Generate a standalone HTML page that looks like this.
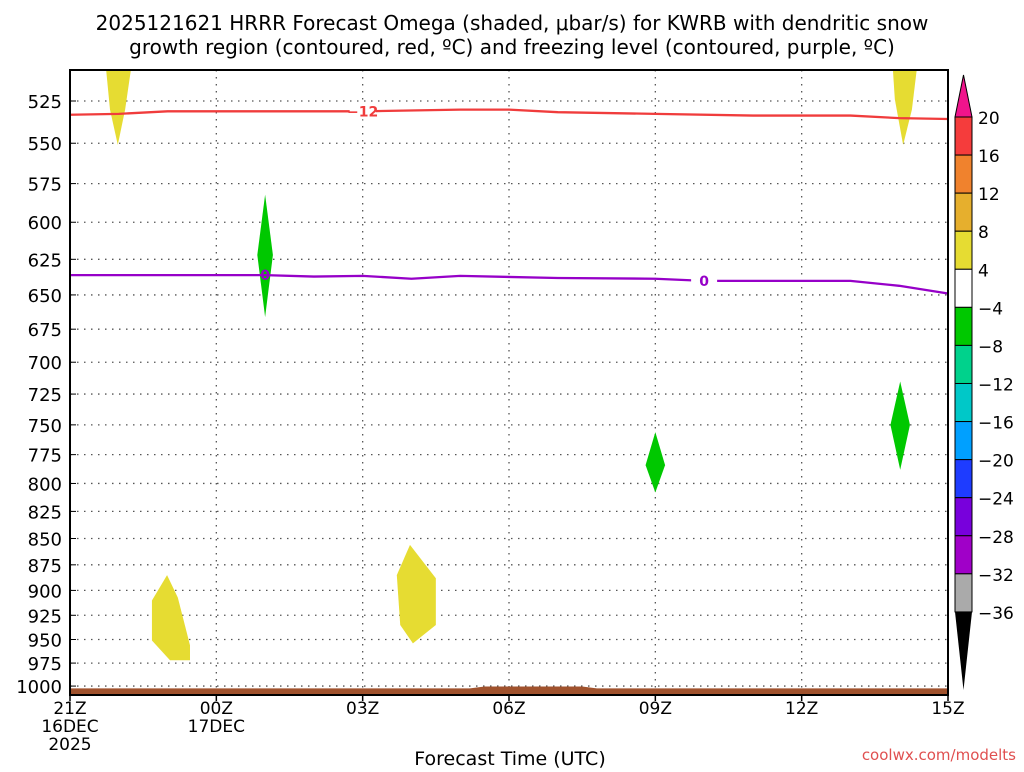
<!DOCTYPE html>
<html><head><meta charset="utf-8"><style>
body{margin:0;background:#fff;width:1024px;height:768px;overflow:hidden;font-family:"DejaVu Sans","Liberation Sans",sans-serif}
svg text{font-family:"DejaVu Sans","Liberation Sans",sans-serif}
</style></head><body>
<svg id="chart" width="1024" height="768" xmlns="http://www.w3.org/2000/svg">
<text x="512" y="30" font-size="20" text-anchor="middle">2025121621 HRRR Forecast Omega (shaded, μbar/s) for KWRB with dendritic snow</text>
<text x="512" y="54" font-size="20" text-anchor="middle">growth region (contoured, red, ºC) and freezing level (contoured, purple, ºC)</text>
<g id="grid"></g><g id="marks"></g><g id="axes"></g><g id="cbar"></g>
<text x="510" y="765" font-size="19" text-anchor="middle">Forecast Time (UTC)</text>
<text x="1016" y="760" font-size="15" fill="#e05050" text-anchor="end">coolwx.com/modelts</text>
</svg>
<script>
const pTicks=[525,550,575,600,625,650,675,700,725,750,775,800,825,850,875,900,925,950,975,1000];
const xTickHours=[0,3,6,9,12,15,18];
const xTickLabels=[["21Z","16DEC","2025"],["00Z","17DEC"],["03Z"],["06Z"],["09Z"],["12Z"],["15Z"]];
const redHours=[0,1,2,4,6,8,9,10,12,14,16,17,18];
const redP=[533,532.5,531,531,531,530,530,531.5,532.5,533.5,533.5,535,535.5];
const purHours=[0,2,4,5,6,7,8,10,12,13,16,17,18];
const purP=[636,636,636,637,636.5,638.5,636.5,638,638.5,640,640,643.5,649];
const blobYellow1H=[0.74,1.25,1.13,0.98,0.82];
const blobYellow1P=[507,507,530,551,530];
const blobYellow2H=[16.87,17.36,17.26,17.08,16.91];
const blobYellow2P=[507,507,530,551,524];
const blobYellow3H=[1.99,2.21,2.46,2.46,2.05,1.68,1.68];
const blobYellow3P=[885,907,956,972,972,951,910];
const blobYellow4H=[6.97,7.5,7.5,7.03,6.77,6.7];
const blobYellow4P=[856,888,935,954,935,885];
const blobGreen1H=[4.0,4.16,4.0,3.84];
const blobGreen1P=[582,622,666,622];
const blobGreen2H=[12.0,12.2,12.0,11.8];
const blobGreen2P=[756,784,808,784];
const blobGreen3H=[17.02,17.22,17.02,16.82];
const blobGreen3P=[715,750,788,750];
const groundH=[0,8.2,8.5,10.5,10.8,18];
const groundP=[1002.5,1002.5,1000.5,1000.5,1002.5,1002.5];
const cbLevels=[20,16,12,8,4,-4,-8,-12,-16,-20,-24,-28,-32,-36];
const cbColors=["#f53c3c","#f0822d","#e6af2d","#e6dc32","#ffffff","#00c800","#00d28c","#00c8c8","#00a0ff","#1e3cff","#7800dc","#a000c8","#aaaaaa"];

const L=70,R=948,T=70,B=695;
const xs=h=>L+(R-L)*h/18;
const ys=p=>101+908*Math.log(p/525);
const NS="http://www.w3.org/2000/svg";
function mk(tag,parent,attrs){const e=document.createElementNS(NS,tag);for(const k in attrs)e.setAttribute(k,attrs[k]);parent.appendChild(e);return e;}
const grid=document.getElementById('grid'),marks=document.getElementById('marks'),axes=document.getElementById('axes'),cb=document.getElementById('cbar');
pTicks.forEach(p=>{
 const g=mk('line',grid,{x1:L,x2:R,y1:ys(p),y2:ys(p),stroke:'#555','stroke-width':1.3,'stroke-dasharray':'1.5,5.5'});
 
 
 const t=mk('text',axes,{x:62,y:ys(p)+7,'font-size':18,'text-anchor':'end'});t.textContent=p;
 
 
 mk('line',axes,{x1:L,x2:L+6,y1:ys(p),y2:ys(p),stroke:'#000'});
});
xTickHours.forEach((h,i)=>{
 if(i>0&&i<6){const g=mk('line',grid,{x1:xs(h),x2:xs(h),y1:T,y2:B,stroke:'#555','stroke-width':1.3,'stroke-dasharray':'1.5,5.5'});
 
 }
 mk('line',axes,{x1:xs(h),x2:xs(h),y1:B,y2:B+6,stroke:'#000','stroke-width':1.5});
 xTickLabels[i].forEach((s,j)=>{const t=mk('text',axes,{x:xs(h),y:714+j*18,'font-size':17,'text-anchor':'middle'});t.textContent=s;
 
 });
});
function poly(H,P,fill,name){const pts=H.map((h,i)=>xs(h)+','+ys(P[i])).join(' ');const e=mk('polygon',marks,{points:pts,fill:fill});
 
 }
poly(blobYellow1H,blobYellow1P,'#e6dc32','omega-yellow-1');
poly(blobYellow2H,blobYellow2P,'#e6dc32','omega-yellow-2');
poly(blobYellow3H,blobYellow3P,'#e6dc32','omega-yellow-3');
poly(blobYellow4H,blobYellow4P,'#e6dc32','omega-yellow-4');
poly(blobGreen1H,blobGreen1P,'#00c800','omega-green-1');
poly(blobGreen2H,blobGreen2P,'#00c800','omega-green-2');
poly(blobGreen3H,blobGreen3P,'#00c800','omega-green-3');
{const pts=groundH.map((h,i)=>xs(h)+','+ys(groundP[i])).concat([xs(18)+','+B,xs(0)+','+B]).join(' ');
 const e=mk('polygon',marks,{points:pts,fill:'#a0522d'});
 
 }
function line(H,P,col,name){const d=H.map((h,i)=>(i?'L':'M')+xs(h)+','+ys(P[i])).join('');const e=mk('path',marks,{d:d,stroke:col,'stroke-width':2.3,fill:'none'});
 
 }
line(redHours,redP,'#f03c3c','dgz-contour-minus12');
line(purHours,purP,'#9600c8','freezing-level-0');
function lab(h,p,s,col,name,bg){if(bg)mk('rect',marks,{x:xs(h)-13,y:ys(p)-8,width:26,height:16,fill:'#fff'});const t=mk('text',marks,{x:xs(h),y:ys(p)+5,'font-size':14,'font-weight':'bold',fill:col,'text-anchor':'middle'});t.textContent=s;
 
 }
lab(6,531,'−12','#f03c3c','contour-label-minus12',true);
lab(4,636,'0','#9600c8','contour-label-0a',false);
lab(13,640,'0','#9600c8','contour-label-0b',true);
{const f=mk('rect',axes,{x:L,y:T,width:R-L,height:B-T,fill:'none',stroke:'#000','stroke-width':2});
 
 }
const cx=955,cw=17,cTop=117,step=38.07;
const tri1=mk('polygon',cb,{points:`${cx},${cTop} ${cx+cw},${cTop} ${cx+cw/2},75`,fill:'#f0148c',stroke:'#000'});


cbColors.forEach((c,i)=>{const r=mk('rect',cb,{x:cx,y:cTop+i*step,width:cw,height:step,fill:c,stroke:'#000'});
 
 });
const yb=cTop+cbColors.length*step;
const tri2=mk('polygon',cb,{points:`${cx},${yb} ${cx+cw},${yb} ${cx+cw/2},690`,fill:'#000'});


cbLevels.forEach((v,i)=>{const t=mk('text',cb,{x:978,y:cTop+i*step+7,'font-size':17});t.textContent=v<0?'−'+(-v):v;
 
 });
</script>
</body></html>
